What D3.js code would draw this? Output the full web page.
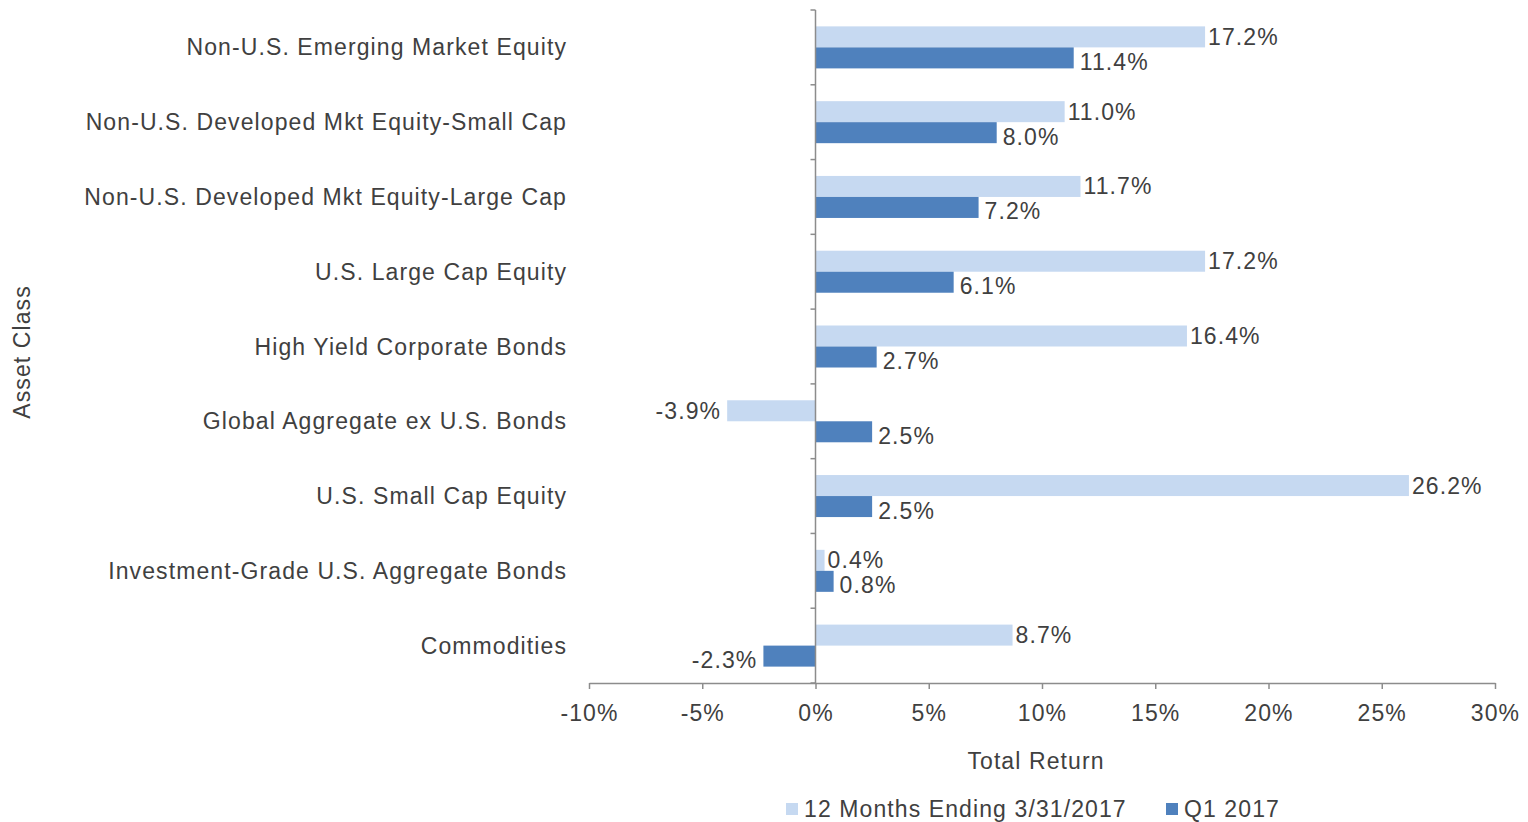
<!DOCTYPE html>
<html>
<head>
<meta charset="utf-8">
<script src="https://cdn.jsdelivr.net/npm/d3@7"></script>
<style>
  body { margin: 0; background: #fff; }
  svg text { font-family: "Liberation Sans", Arial, sans-serif; fill: #404040; letter-spacing: 1.1px; }
</style>
</head>
<body>
<svg id="BarVis" width="1528" height="822"></svg>
<script>
const width = 1528;
const height = 822;

/* DATA */
const assetClasses = [
  "Non-U.S. Emerging Market Equity",
  "Non-U.S. Developed Mkt Equity-Small Cap",
  "Non-U.S. Developed Mkt Equity-Large Cap",
  "U.S. Large Cap Equity",
  "High Yield Corporate Bonds",
  "Global Aggregate ex U.S. Bonds",
  "U.S. Small Cap Equity",
  "Investment-Grade U.S. Aggregate Bonds",
  "Commodities"
];
const seriesNames = ["12 Months Ending 3/31/2017", "Q1 2017"];
const twelveMonths = [17.2, 11.0, 11.7, 17.2, 16.4, -3.9, 26.2, 0.4, 8.7];
const quarterOne = [11.4, 8.0, 7.2, 6.1, 2.7, 2.5, 2.5, 0.8, -2.3];
const xTicks = [-10, -5, 0, 5, 10, 15, 20, 25, 30];

const colors = { "12 Months Ending 3/31/2017": "#c6d9f1", "Q1 2017": "#4f81bd" };
const axisColor = "#8c8c8c";

const margin = { top: 10, bottom: 139, left: 589, right: 33 };

/* PLOT */
let svg = d3.select("body").select("svg#BarVis");
const plot = svg.append("g").attr("id", "plot")
  .attr("transform", translate(margin.left, margin.top));

const plotWidth = width - margin.left - margin.right;
const plotHeight = height - margin.top - margin.bottom;

/* SCALES */
const scales = {
  x: d3.scaleLinear().domain([-10, 30]).range([0, plotWidth]),
  y: d3.scaleBand().domain(assetClasses).range([0, plotHeight]).padding(0),
  series: d3.scaleBand().domain(seriesNames).paddingOuter(0.78).paddingInner(0)
};
scales.series.range([0, scales.y.bandwidth()]);

const rows = assetClasses.map((name, i) => ({
  name: name,
  values: [
    { series: seriesNames[0], value: twelveMonths[i] },
    { series: seriesNames[1], value: quarterOne[i] }
  ]
}));

/* BARS */
const groups = plot.selectAll("g.row")
  .data(rows)
  .enter()
  .append("g")
  .attr("class", "row")
  .attr("transform", d => translate(0, scales.y(d.name)));

groups.selectAll("rect")
  .data(d => d.values)
  .enter()
  .append("rect")
  .attr("x", d => scales.x(Math.min(0, d.value)))
  .attr("y", d => scales.series(d.series))
  .attr("width", d => Math.abs(scales.x(d.value) - scales.x(0)))
  .attr("height", scales.series.bandwidth())
  .attr("fill", d => colors[d.series]);

/* VALUE LABELS */
groups.selectAll("text.value")
  .data(d => d.values)
  .enter()
  .append("text")
  .attr("class", "value")
  .attr("x", d => d.value < 0 ? scales.x(d.value) - 6 : scales.x(d.value) + (d.series === seriesNames[0] ? 3 : 6))
  .attr("y", d => scales.series(d.series) + scales.series.bandwidth() / 2 + (d.series === seriesNames[0] ? 0 : 4))
  .attr("dy", "0.35em")
  .attr("text-anchor", d => d.value < 0 ? "end" : "start")
  .style("font-size", "23px")
  .text(d => d.value.toFixed(1) + "%");

/* AXES */
const xAxis = d3.axisBottom(scales.x)
  .tickValues(xTicks)
  .tickFormat(d => d + "%")
  .tickSize(6)
  .tickSizeOuter(0)
  .tickPadding(16);

const xGroup = plot.append("g").attr("id", "x-axis")
  .attr("transform", translate(0, plotHeight))
  .call(xAxis);

// category boundaries as ticks on the zero line
const yGroup = plot.append("g").attr("id", "y-axis")
  .attr("transform", translate(scales.x(0), 0));

yGroup.append("line")
  .attr("y1", 0).attr("y2", plotHeight)
  .attr("stroke", axisColor).attr("stroke-width", 1.5);

yGroup.selectAll("line.tick")
  .data(assetClasses.concat([null]))
  .enter()
  .append("line")
  .attr("class", "tick")
  .attr("x1", -5).attr("x2", 0)
  .attr("y1", (d, i) => i * scales.y.step())
  .attr("y2", (d, i) => i * scales.y.step())
  .attr("stroke", axisColor).attr("stroke-width", 1.5);

xGroup.select(".domain").attr("stroke", axisColor).attr("stroke-width", 1.5);
xGroup.selectAll(".tick line").attr("stroke", axisColor).attr("stroke-width", 1.5);
xGroup.selectAll(".tick text").style("font-size", "23px").attr("fill", "#404040");

/* CATEGORY LABELS */
plot.selectAll("text.category")
  .data(assetClasses)
  .enter()
  .append("text")
  .attr("class", "category")
  .attr("x", -22)
  .attr("y", d => scales.y(d) + scales.y.bandwidth() / 2)
  .attr("dy", "0.35em")
  .attr("text-anchor", "end")
  .style("font-size", "23px")
  .text(d => d);

/* AXIS TITLES */
svg.append("text")
  .attr("class", "axis-title")
  .attr("x", margin.left + midpoint(scales.x.range()) - 6)
  .attr("y", 761)
  .attr("dy", "0.35em")
  .attr("text-anchor", "middle")
  .style("font-size", "23px")
  .text("Total Return");

svg.append("text")
  .attr("class", "axis-title")
  .attr("transform", translate(22, 352) + " rotate(-90)")
  .attr("dy", "0.35em")
  .attr("text-anchor", "middle")
  .style("font-size", "23px")
  .text("Asset Class");

/* LEGEND */
const legend = svg.append("g").attr("id", "legend");
const legendX = [786, 1166];

seriesNames.forEach((name, i) => {
  const item = legend.append("g").attr("transform", translate(legendX[i], 809));
  item.append("rect")
    .attr("x", 0).attr("y", -6)
    .attr("width", 12).attr("height", 12)
    .attr("fill", colors[name]);
  item.append("text")
    .attr("x", 18).attr("y", 0)
    .attr("dy", "0.35em")
    .style("font-size", "23px")
    .text(name);
});

function midpoint(range) {
  return range[0] + (range[1] - range[0]) / 2.0;
}

function translate(x, y) {
  return 'translate(' + String(x) + ',' + String(y) + ')';
}
</script>
</body>
</html>
